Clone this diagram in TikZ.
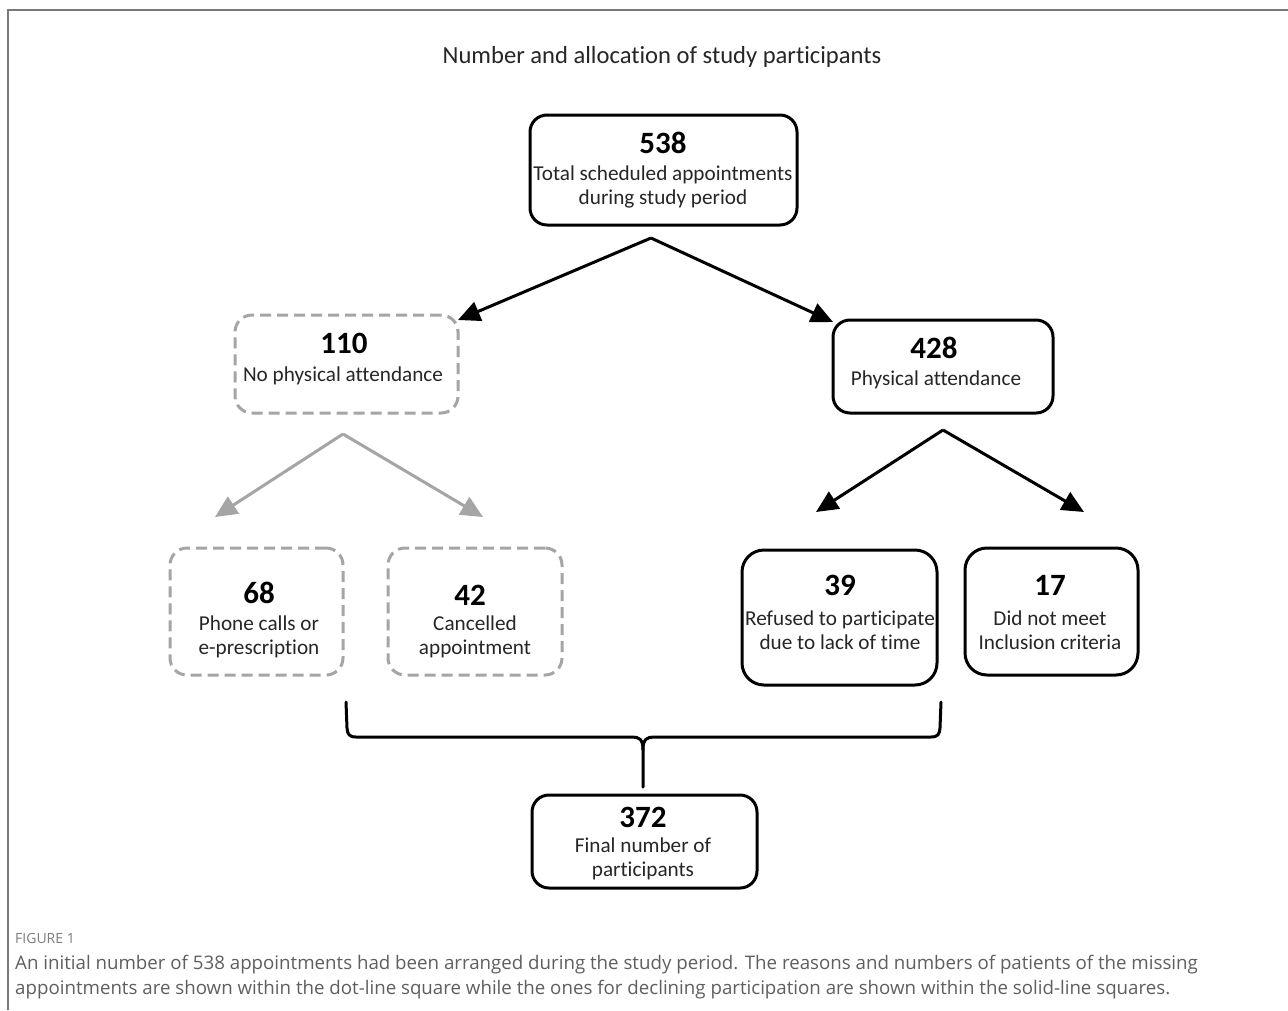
\documentclass[tikz,border=0pt]{standalone}
\usepackage{fontspec}
\setmainfont{Carlito}[RawFeature={-liga;-clig;-dlig;-calt}]
\newfontfamily\capfont{Open Sans}[RawFeature={-liga;-clig}]
\usetikzlibrary{arrows.meta}
\definecolor{dgray}{RGB}{165,165,165}
\definecolor{capgray}{RGB}{95,95,95}
\definecolor{figgray}{RGB}{125,125,125}
\definecolor{framegray}{RGB}{120,120,120}
\begin{document}
\begin{tikzpicture}[x=1pt,y=-1pt,
  box/.style={draw=black, line width=3pt, rounded corners=17pt, inner sep=0pt},
  dbox/.style={box, draw=dgray, dash pattern=on 11pt off 6pt},
  num/.style={font=\fontsize{31}{34}\selectfont\bfseries, inner sep=0pt},
  lbl/.style={font=\fontsize{21.2}{24}\selectfont, align=center, inner sep=0pt, text=black!85},
  arr/.style={line width=3pt, -{Triangle[length=22pt,width=20pt]}},
  garr/.style={arr, draw=dgray},
  brace/.style={line width=3pt, line cap=round}
]
\useasboundingbox (0,0) rectangle (1288,1010);
\fill[white] (0,0) rectangle (1288,1010);
\draw[framegray, line width=1.6pt] (8,1010) -- (8,10) -- (1288,10);

% title
\node[font=\fontsize{24.6}{28}\selectfont, text=black!85] (title) at (662,57) {Number and allocation of study participants};

% boxes
\node[box, minimum width=267pt, minimum height=110pt] (b538) at (663.5,170) {};
\node[dbox, minimum width=223pt, minimum height=98pt] (b110) at (346.5,364) {};
\node[box, minimum width=220pt, minimum height=93pt] (b428) at (943,366.5) {};
\node[dbox, minimum width=173pt, minimum height=127pt] (b68) at (256.5,611.5) {};
\node[dbox, minimum width=174pt, minimum height=127pt] (b42) at (475,611.5) {};
\node[box, minimum width=195pt, minimum height=135pt, rounded corners=22pt] (b39) at (839.5,617.5) {};
\node[box, minimum width=173pt, minimum height=127pt, rounded corners=22pt] (b17) at (1051.5,611.5) {};
\node[box, minimum width=225pt, minimum height=93pt] (b372) at (644.5,841.5) {};

% texts
\node[num] (t538n) at (663,143) {538};
\node[lbl] (t538) at (663,187) {Total scheduled appointments\\during study period};
\node[num] (t110n) at (344,343) {110};
\node[lbl] (t110) at (343,376) {No physical attendance};
\node[num] (t428n) at (934,348) {428};
\node[lbl] (t428) at (936,380) {Physical attendance};
\node[num] (t68n) at (259,593) {68};
\node[lbl] (t68) at (259,637) {Phone calls or\\e-prescription};
\node[num] (t42n) at (470,595) {42};
\node[lbl] (t42) at (475,637) {Cancelled\\appointment};
\node[num] (t39n) at (840,585) {39};
\node[lbl] (t39) at (840,630) {Refused to participate\\due to lack of time};
\node[num] (t17n) at (1050,585) {17};
\node[lbl] (t17) at (1050,630) {Did not meet\\Inclusion criteria};
\node[num] (t372n) at (643,817) {372};
\node[lbl] (t372) at (643,859) {Final number of\\participants};

% arrow coordinates
\coordinate (s1) at (651,238);
\coordinate (e1l) at (458,320);
\coordinate (e1r) at (833,322);
\coordinate (s2) at (343,434);
\coordinate (e2l) at (215,517);
\coordinate (e2r) at (483,517);
\coordinate (s3) at (943,430);
\coordinate (e3l) at (816,512);
\coordinate (e3r) at (1084,512);

\draw[arr] (s1) -- (e1l);
\draw[arr] (s1) -- (e1r);
\draw[garr] (s2) -- (e2l);
\draw[garr] (s2) -- (e2r);
\draw[arr] (s3) -- (e3l);
\draw[arr] (s3) -- (e3r);

% brace
\coordinate (brL) at (346,702);
\coordinate (brR) at (941,702);
\coordinate (brT) at (643,787);
\draw[brace] (brL) -- (347,728) .. controls (347.5,734) and (349,737) .. (356,737) -- (632,737)
  .. controls (639,737) and (643,739) .. (643,750) -- (brT);
\draw[brace] (brR) -- (940,728) .. controls (939.5,734) and (938,737) .. (931,737) -- (654,737)
  .. controls (647,737) and (643,739) .. (643,750);

% caption
\node[anchor=base west, font=\capfont\fontsize{14}{16}\selectfont, text=figgray, inner sep=0pt] (figlab) at (15,943) {FIGURE 1};
\node[anchor=base west, font=\capfont\fontsize{18.7}{22}\selectfont, text=capgray, inner sep=0pt] (cap1) at (15,969) {An initial number of 538 appointments had been arranged during the study period. The reasons and numbers of patients of the missing};
\node[anchor=base west, font=\capfont\fontsize{18.7}{22}\selectfont, text=capgray, inner sep=0pt] (cap2) at (15,994) {appointments are shown within the dot-line square while the ones for declining participation are shown within the solid-line squares.};
\end{tikzpicture}
\end{document}
